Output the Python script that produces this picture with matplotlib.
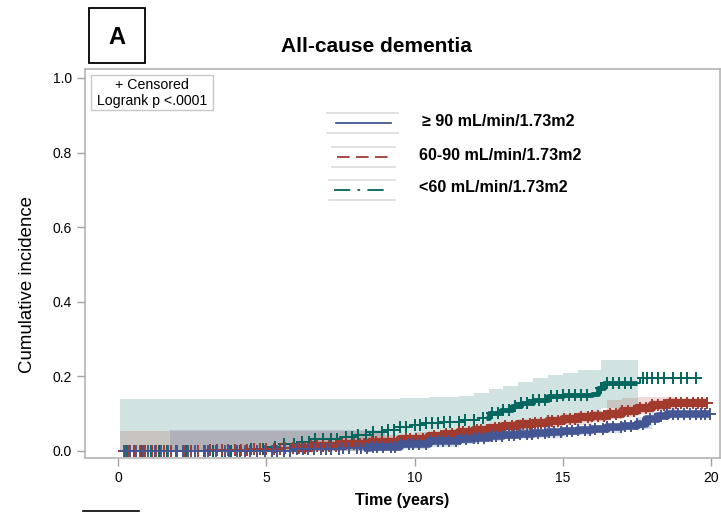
import matplotlib
matplotlib.use("Agg")
import matplotlib.pyplot as plt
from matplotlib.lines import Line2D
from matplotlib.patches import Rectangle
import numpy as np

plt.rcParams['font.family'] = ['Liberation Sans', 'DejaVu Sans']

W, H = 721, 512

groups = ["\u2265 90 mL/min/1.73m2", "60-90 mL/min/1.73m2", "<60 mL/min/1.73m2"]
colors = ["#445694", "#A23A2E", "#01665E"]

# step curves (time, cumulative incidence after the step)
blue_t = [0.1, 4.0, 6.0, 7.5, 8.5, 9.5, 10.5, 11.5, 12.0, 12.5, 13.0, 13.5, 14.0,
          14.5, 15.0, 15.5, 16.0, 16.5, 17.0, 17.5, 17.8, 18.2, 18.5, 20.0]
blue_y = [0.0, 0.001, 0.004, 0.007, 0.012, 0.02, 0.026, 0.032, 0.036, 0.04, 0.043,
          0.046, 0.048, 0.05, 0.054, 0.057, 0.06, 0.064, 0.068, 0.072, 0.085, 0.095,
          0.099, 0.099]

red_t = [0.1, 3.0, 4.5, 5.5, 6.5, 7.5, 8.5, 9.5, 10.5, 11.0, 11.5, 12.0, 12.5, 13.0,
         13.5, 14.0, 14.5, 15.0, 15.5, 16.0, 16.5, 17.0, 17.5, 18.0, 18.5, 19.9]
red_y = [0.0, 0.002, 0.005, 0.008, 0.013, 0.019, 0.025, 0.031, 0.04, 0.045, 0.05,
         0.055, 0.062, 0.068, 0.072, 0.076, 0.08, 0.085, 0.09, 0.094, 0.1, 0.107,
         0.115, 0.124, 0.128, 0.128]

green_t = [0.1, 4.5, 5.0, 5.6, 6.1, 6.6, 7.5, 8.0, 8.5, 9.0, 9.5, 10.0, 10.4, 11.0,
           11.6, 12.1, 12.5, 12.9, 13.3, 13.6, 14.0, 14.5, 15.0, 16.0, 16.2, 16.4,
           17.6, 19.55]
green_y = [0.0, 0.004, 0.01, 0.018, 0.025, 0.032, 0.038, 0.044, 0.05, 0.057, 0.064,
           0.07, 0.075, 0.079, 0.083, 0.088, 0.102, 0.11, 0.12, 0.128, 0.137, 0.148,
           0.15, 0.154, 0.17, 0.182, 0.195, 0.195]

# confidence bands
blue_bt = [1.75, 8.8, 9.0, 10.0, 11.0, 12.0, 13.0, 14.0, 15.0, 16.0, 17.0, 17.5, 18.0, 18.3]
blue_lo = [0.0, 0.0, 0.008, 0.015, 0.022, 0.026, 0.032, 0.036, 0.042, 0.048, 0.055,
           0.06, 0.085, 0.088]
blue_hi = [0.057, 0.057, 0.035, 0.038, 0.044, 0.048, 0.054, 0.058, 0.064, 0.07, 0.078,
           0.09, 0.105, 0.108]

red_bt = [0.07, 8.8, 9.0, 10.0, 11.0, 12.0, 13.0, 14.0, 15.0, 16.0, 16.5, 17.0, 17.5, 18.0, 18.8]
red_lo = [0.0, 0.0, 0.022, 0.03, 0.036, 0.044, 0.055, 0.062, 0.07, 0.078, 0.085, 0.09,
          0.1, 0.11, 0.112]
red_hi = [0.053, 0.053, 0.042, 0.05, 0.056, 0.065, 0.078, 0.086, 0.098, 0.108, 0.138,
          0.142, 0.144, 0.145, 0.145]

green_bt = [0.07, 9.0, 9.5, 10.5, 11.5, 12.0, 12.5, 13.0, 13.5, 14.0, 14.5, 15.0, 15.5,
            16.3, 17.55]
green_lo = [0.0, 0.0, 0.005, 0.01, 0.02, 0.025, 0.035, 0.045, 0.055, 0.065, 0.075,
            0.085, 0.09, 0.115, 0.12]
green_hi = [0.139, 0.139, 0.142, 0.145, 0.148, 0.155, 0.165, 0.175, 0.185, 0.195, 0.204,
            0.21, 0.217, 0.245, 0.245]

# censoring times
blue_cens = [0.25, 0.4, 0.6, 0.85, 1.0, 1.25, 1.45, 1.7, 1.95, 2.2, 2.35, 2.6, 2.9,
             3.05, 3.3, 3.6, 3.75, 4.0, 4.3, 4.45, 4.7, 4.95, 5.2, 5.35, 5.6, 5.8,
             6.05, 6.25, 6.4, 6.6, 6.85, 7.0, 7.2, 7.45, 7.6, 7.8, 8.05, 8.2, 8.4,
             8.6, 8.75, 8.95, 9.2, 9.35, 9.55, 9.8, 9.95, 10.15, 10.4, 10.55, 10.8,
             10.95, 11.15, 11.4, 11.55, 11.75, 12.0, 12.15, 12.35, 12.6, 12.75, 12.95,
             13.2, 13.35, 13.55, 13.8, 13.95, 14.15, 14.4, 14.55, 14.7, 14.95, 15.15,
             15.3, 15.5, 15.75, 15.9, 16.1, 16.35, 16.5, 16.7, 16.95, 17.1, 17.3,
             17.5, 17.7, 17.95, 18.1, 18.3, 18.5, 18.7, 18.9, 19.1, 19.3, 19.5, 19.65,
             19.8, 19.95]
red_cens = [0.2, 0.35, 0.55, 0.75, 0.9, 1.15, 1.3, 1.55, 1.8, 2.0, 2.25, 2.45, 2.7,
            2.95, 3.1, 3.35, 3.5, 3.7, 3.95, 4.15, 4.35, 4.6, 4.8, 5.0, 5.25, 5.45,
            5.65, 5.9, 6.1, 6.3, 6.5, 6.7, 6.9, 7.1, 7.35, 7.55, 7.7, 7.95, 8.15, 8.3,
            8.55, 8.7, 8.9, 9.1, 9.3, 9.45, 9.7, 9.85, 10.05, 10.3, 10.45, 10.65, 10.9,
            11.05, 11.25, 11.5, 11.65, 11.85, 12.1, 12.25, 12.45, 12.7, 12.85, 13.05,
            13.3, 13.45, 13.65, 13.9, 14.05, 14.25, 14.5, 14.65, 14.85, 15.05, 15.25,
            15.4, 15.6, 15.85, 16.0, 16.2, 16.4, 16.6, 16.8, 17.0, 17.2, 17.4, 17.6,
            17.8, 18.0, 18.2, 18.4, 18.6, 18.8, 19.0, 19.2, 19.4, 19.55, 19.7, 19.85]
green_cens = [0.3, 0.55, 0.8, 1.1, 1.4, 1.65, 2.0, 2.3, 2.6, 2.9, 3.2, 3.5, 3.8, 4.1,
              4.5, 4.9, 5.3, 5.6, 5.95, 6.2, 6.45, 6.65, 6.9, 7.2, 7.4, 7.7, 7.9, 8.1,
              8.35, 8.6, 8.9, 9.1, 9.3, 9.5, 9.7, 10.0, 10.2, 10.4, 10.6, 10.8, 11.0,
              11.2, 11.5, 11.7, 12.0, 12.3, 12.6, 12.8, 13.0, 13.2, 13.4, 13.6, 13.8,
              14.0, 14.2, 14.4, 14.6, 14.8, 15.0, 15.2, 15.4, 15.6, 15.8, 16.3, 16.5,
              16.7, 16.9, 17.1, 17.3, 17.7, 17.85, 18.0, 18.2, 18.4, 18.7, 19.0, 19.2,
              19.5]

curves = [(blue_t, blue_y), (red_t, red_y), (green_t, green_y)]
bands = [(blue_bt, blue_lo, blue_hi), (red_bt, red_lo, red_hi), (green_bt, green_lo, green_hi)]
cens = [blue_cens, red_cens, green_cens]
styles = ["-", (0, (7, 3.5)), (0, (9, 4, 1.5, 4))]
# where the censoring marks pile up into a solid ribbon
dense_from = [8.3, 5.8, 12.4]
dense_lw = [5.5, 6.0, 3.5]


def step_at(t, y, x):
    idx = np.searchsorted(t, x, side="right") - 1
    return np.asarray(y)[np.clip(idx, 0, len(y) - 1)]


fig = plt.figure(figsize=(W / 100, H / 100), dpi=100)
ax = fig.add_axes([85 / W, 1 - 458 / H, 635 / W, 389 / H])

# bands drawn green first, then red, then blue on top
for i in [2, 1, 0]:
    bt, lo, hi = bands[i]
    ax.fill_between(bt, lo, hi, step="post", color=colors[i], alpha=0.18, lw=0)

for i in [2, 1, 0]:
    t, y = curves[i]
    t = np.asarray(t)
    ax.step(t, y, where="post", color=colors[i], lw=1.4, ls=styles[i])
    # thick ribbon for the dense censoring region
    ct = np.array(cens[i])
    t_end = ct.max() if i != 2 else 17.5
    keep = (t > dense_from[i]) & (t < t_end)
    rt = np.concatenate([[dense_from[i]], t[keep], [t_end]])
    ry = step_at(t, y, rt)
    ax.step(rt, ry, where="post", color=colors[i], lw=dense_lw[i],
            solid_capstyle="butt")
    ax.plot(ct, step_at(t, y, ct), ls="none", marker="+", ms=8, mew=1.4,
            color=colors[i])

ax.set_xlim(-1.11, 20.3)
ax.set_ylim(-0.0188, 1.024)
ax.set_xticks([0, 5, 10, 15, 20])
ax.set_yticks([0.0, 0.2, 0.4, 0.6, 0.8, 1.0])
ax.set_yticklabels(["0.0", "0.2", "0.4", "0.6", "0.8", "1.0"])
ax.tick_params(direction="out", length=6, width=1, color="#a0a0a0",
               labelsize=10, pad=3.5)
for s in ax.spines.values():
    s.set_color("#b4b4b4")
    s.set_linewidth(1.2)

ax.set_xlabel("Time (years)", fontsize=11.6, fontweight="bold", va="center")
ax.xaxis.set_label_coords(0.5, -0.110)
ax.set_ylabel("Cumulative incidence", fontsize=13.4, va="center")
ax.yaxis.set_label_coords(-0.0913, 0.447)


def fx(px):
    return px / W


def fy(py):
    return 1 - py / H


# panel letter box and title
fig.add_artist(Rectangle((fx(89), fy(63)), 56 / W, 55 / H, fill=False,
                         ec="black", lw=1.3, transform=fig.transFigure))
fig.text(fx(117), fy(37), "A", fontsize=17, fontweight="bold",
         ha="center", va="center")
fig.text(fx(376), fy(46), "All-cause dementia", fontsize=15, fontweight="bold",
         ha="center", va="center")

# censored / logrank box
fig.add_artist(Rectangle((fx(91), fy(110)), 122 / W, 35 / H, fill=False,
                         ec="#c8c8c8", lw=1, transform=fig.transFigure))
fig.text(fx(152), fy(85), "+ Censored", fontsize=10.2, ha="center", va="center")
fig.text(fx(152), fy(101), "Logrank p <.0001", fontsize=10.2, ha="center", va="center")

# group legend
leg_y = [123, 157, 190]
leg_gray = [(327, 398), (332, 395), (329, 395)]
leg_line = [(336, 391), (337, 391), (334, 390)]
leg_tx = [422, 419, 419]
for i in range(3):
    yy = leg_y[i]
    g0, g1 = leg_gray[i]
    for dy in (-10, 10):
        fig.add_artist(Line2D([fx(g0), fx(g1)], [fy(yy + dy), fy(yy + dy)],
                              color="#dcdcdc", lw=1.2, transform=fig.transFigure))
    l0, l1 = leg_line[i]
    fig.add_artist(Line2D([fx(l0), fx(l1)], [fy(yy), fy(yy)], color=colors[i],
                          lw=1.3, ls=styles[i], transform=fig.transFigure))
    fig.text(fx(leg_tx[i]), fy(yy - 2), groups[i], fontsize=11.6, fontweight="bold",
             ha="left", va="center")

fig.add_artist(Line2D([fx(83), fx(139)], [fy(511), fy(511)], color="black",
                      lw=1.2, transform=fig.transFigure))

fig.savefig("out.png", dpi=100)
